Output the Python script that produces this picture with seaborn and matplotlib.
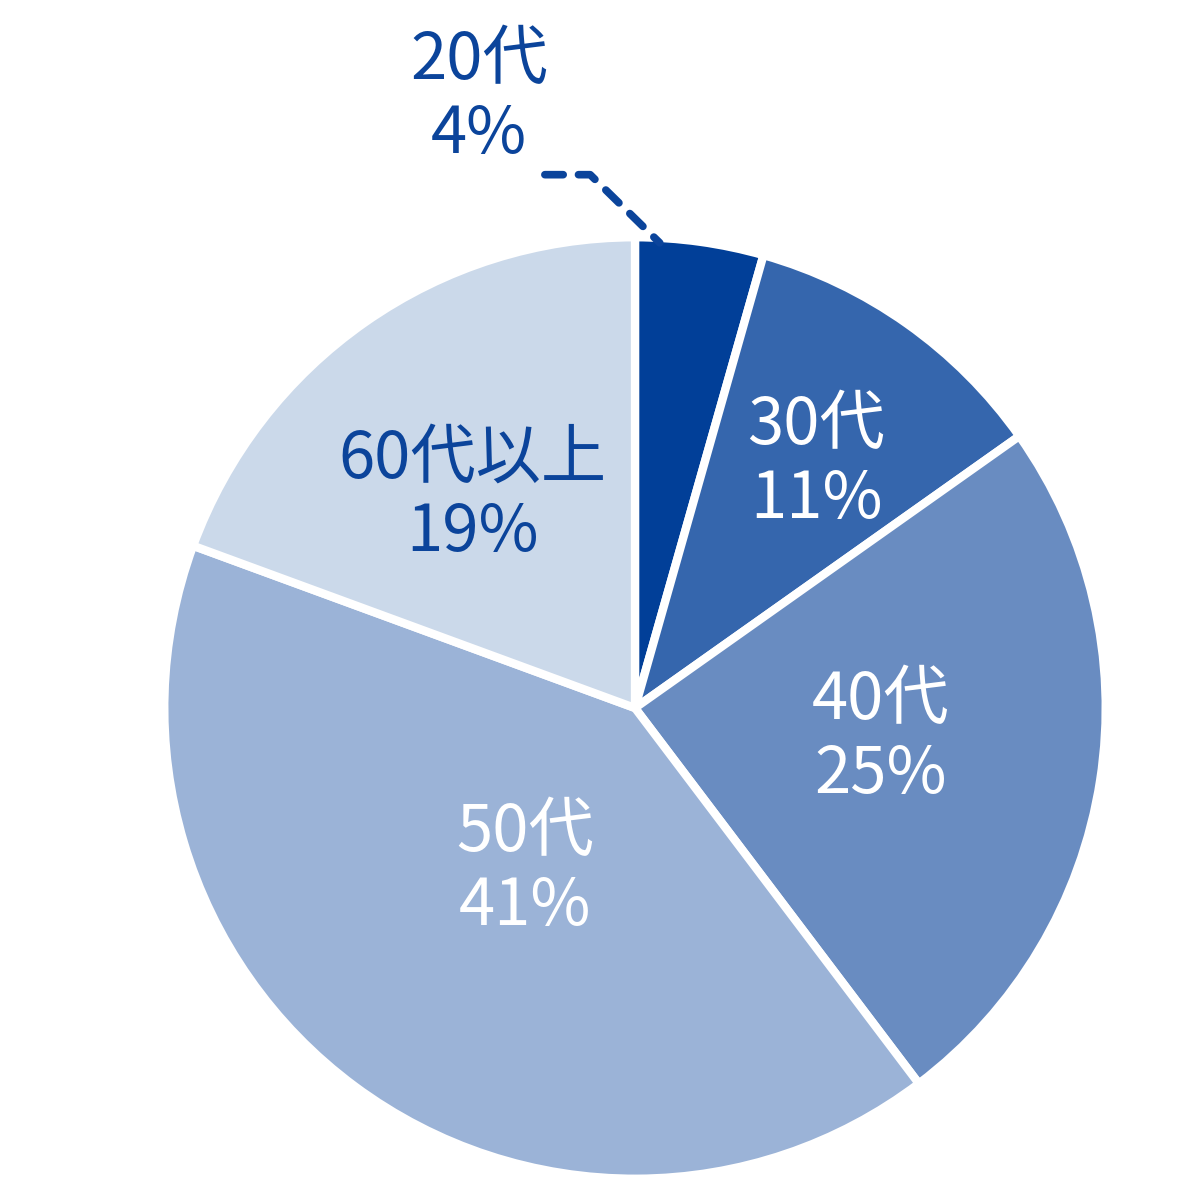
import matplotlib
matplotlib.use("Agg")
import matplotlib.pyplot as plt
import seaborn as sns

# data (slice sizes, labels as printed)
labels = ["20代", "30代", "40代", "50代", "60代以上"]
shares = [4.4, 10.8, 24.5, 40.9, 19.4]
shown_pct = [4, 11, 25, 41, 19]
colors = ["#013f98", "#3566ad", "#698cc1", "#9bb3d7", "#cbd9ea"]
text_colors = ["#0b449b", "white", "white", "white", "#0b449b"]

sns.set_theme(style="white")
plt.rcParams['font.family'] = ['Noto Sans CJK JP', 'DejaVu Sans']

fig = plt.figure(figsize=(11.92, 11.87), dpi=100)
ax = fig.add_axes([0, 0, 1, 1])

wedges, _ = ax.pie(shares, colors=colors, startangle=90, counterclock=False,
                   radius=1.008,
                   wedgeprops=dict(edgecolor="white", linewidth=6))

# pie sets its own limits, so put ours back afterwards
ax.set_xlim(-635 / 467, 557 / 467)
ax.set_ylim(-479 / 467, 708 / 467)
ax.set_aspect("equal")
ax.axis("off")

# label positions in pie units (center = 0,0)
label_pos = [(-0.334, 1.306), (0.388, 0.525), (0.525, -0.064),
             (-0.236, -0.347), (-0.349, 0.454)]
for lab, val, (x, y), tc in zip(labels, shown_pct, label_pos, text_colors):
    ax.text(x, y, f"{lab}\n{val}%", ha="center", va="center", color=tc,
            fontsize=47, linespacing=1.15)

# leader line for the small slice
ax.plot([-0.193, -0.096, 0.053], [1.142, 1.142, 0.996], color="#0b449b",
        lw=5.5, ls=(0, (2.4, 2.0)), dash_capstyle="round",
        solid_joinstyle="round")

fig.savefig("out.png", dpi=100, facecolor="white")
